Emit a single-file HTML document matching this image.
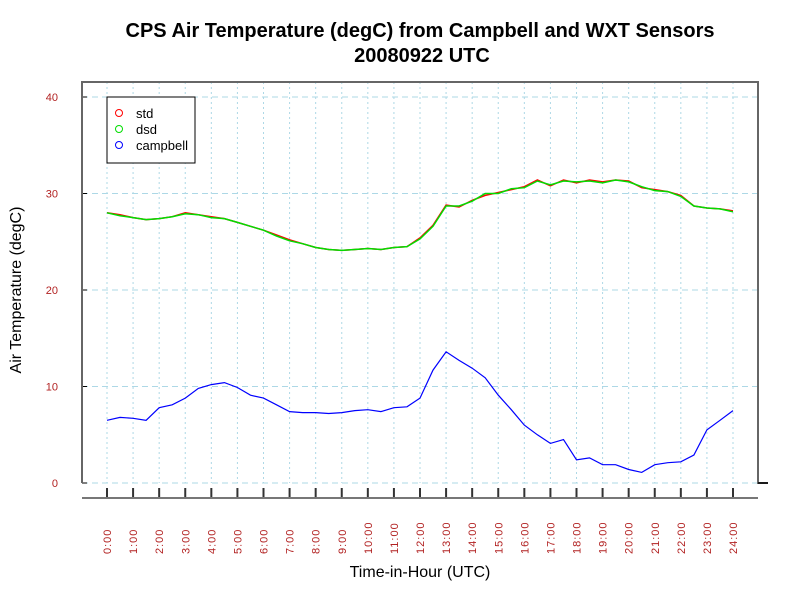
<!DOCTYPE html>
<html><head><meta charset="utf-8"><style>
body{margin:0;background:#fff;}
svg{display:block;font-family:"Liberation Sans",sans-serif;}
</style></head><body>
<svg id="chart" width="800" height="600">
<rect width="800" height="600" fill="#fff"/>
<text x="420" y="37" text-anchor="middle" font-size="20" font-weight="bold">CPS Air Temperature (degC) from Campbell and WXT Sensors</text>
<text x="422" y="62" text-anchor="middle" font-size="20" font-weight="bold">20080922  UTC</text>
<text transform="translate(21,290) rotate(-90)" text-anchor="middle" font-size="16">Air Temperature (degC)</text>
<text x="420" y="577" text-anchor="middle" font-size="16">Time-in-Hour (UTC)</text>
<g id="grid"></g>
<g id="series"></g>
<g id="axes"></g>
<g>
<rect x="107" y="97" width="88" height="66" fill="#fff" stroke="#000" stroke-width="1"/>
<circle cx="119" cy="113" r="3.5" fill="none" stroke="#f00"/>
<text x="136" y="118" font-size="13">std</text>
<circle cx="119" cy="129" r="3.5" fill="none" stroke="#0d0"/>
<text x="136" y="134" font-size="13">dsd</text>
<circle cx="119" cy="145" r="3.5" fill="none" stroke="#00f"/>
<text x="136" y="150" font-size="13">campbell</text>
</g>
</svg>
<script>
const hours=[0,0.5,1,1.5,2,2.5,3,3.5,4,4.5,5,5.5,6,6.5,7,7.5,8,8.5,9,9.5,10,10.5,11,11.5,12,12.5,13,13.5,14,14.5,15,15.5,16,16.5,17,17.5,18,18.5,19,19.5,20,20.5,21,21.5,22,22.5,23,23.5,24];
const stdVals=[28.0,27.8,27.5,27.3,27.4,27.6,28.0,27.8,27.6,27.4,27.0,26.6,26.2,25.7,25.2,24.8,24.4,24.2,24.1,24.2,24.3,24.2,24.4,24.5,25.4,26.7,28.8,28.6,29.3,29.8,30.1,30.4,30.7,31.4,30.8,31.4,31.1,31.4,31.2,31.4,31.3,30.6,30.4,30.2,29.8,28.7,28.5,28.4,28.2];
const dsdVals=[28.0,27.7,27.5,27.3,27.4,27.6,27.9,27.8,27.5,27.4,27.0,26.6,26.2,25.6,25.1,24.8,24.4,24.2,24.1,24.2,24.3,24.2,24.4,24.5,25.3,26.6,28.7,28.7,29.2,30.0,30.0,30.5,30.6,31.3,30.9,31.3,31.2,31.3,31.1,31.4,31.2,30.7,30.3,30.2,29.7,28.7,28.5,28.4,28.1];
const campbellVals=[6.5,6.8,6.7,6.5,7.8,8.1,8.8,9.8,10.2,10.4,9.9,9.1,8.8,8.1,7.4,7.3,7.3,7.2,7.3,7.5,7.6,7.4,7.8,7.9,8.8,11.7,13.6,12.7,11.9,10.9,9.1,7.6,6.0,5.0,4.1,4.5,2.4,2.6,1.9,1.9,1.4,1.1,1.9,2.1,2.2,2.9,5.5,6.5,7.5];
const yTicks=[0,10,20,30,40];
const xTickLabels=["0:00","1:00","2:00","3:00","4:00","5:00","6:00","7:00","8:00","9:00","10:00","11:00","12:00","13:00","14:00","15:00","16:00","17:00","18:00","19:00","20:00","21:00","22:00","23:00","24:00"];
const NS="http://www.w3.org/2000/svg";
function xs(h){return 107+h*(733-107)/24;}
function ys(v){return 483-v*(483-97)/40;}
function mk(tag,attrs,parent){const e=document.createElementNS(NS,tag);for(const k in attrs)e.setAttribute(k,attrs[k]);parent.appendChild(e);return e;}
const grid=document.getElementById('grid'),series=document.getElementById('series'),axes=document.getElementById('axes');
yTicks.forEach(v=>{
  const l=mk('line',{x1:82,x2:758,y1:ys(v),y2:ys(v),stroke:'#add8e6','stroke-dasharray':'6,4'},grid);
  
  
  const t=mk('text',{x:58,y:ys(v)+4,'text-anchor':'end','font-size':'11',fill:'#b22222'},axes);
  t.textContent=v;
  
  
  mk('line',{x1:82,x2:87,y1:ys(v),y2:ys(v),stroke:'#000'},axes);
});
xTickLabels.forEach((s,i)=>{
  const x=xs(i);
  const l=mk('line',{x1:x,x2:x,y1:82,y2:483,stroke:'#add8e6','stroke-dasharray':'2,3'},grid);
  
  
  mk('line',{x1:x,x2:x,y1:488,y2:498,stroke:'#333','stroke-width':2},axes);
  const t=mk('text',{transform:`translate(${x+4},554) rotate(-90)`,'font-size':'11',fill:'#b22222','letter-spacing':'1'},axes);
  t.textContent=s;
  
  
});
mk('path',{d:'M82,483 L82,82 L758,82 L758,483 L768,483',fill:'none',stroke:'#666','stroke-width':2},axes);
mk('line',{x1:758,x2:768,y1:483,y2:483,stroke:'#000','stroke-width':1.5},axes);
const xa=mk('line',{x1:82,x2:758,y1:498,y2:498,stroke:'#777','stroke-width':2},axes);


function line(vals,color,name,w){
  const d=vals.map((v,i)=>(i?'L':'M')+xs(hours[i]).toFixed(1)+','+ys(v).toFixed(1)).join(' ');
  const p=mk('path',{d:d,fill:'none',stroke:color,'stroke-width':w},series);
  
  
}
line(stdVals,'#f00','std-line',1.5);
line(dsdVals,'#0d0','dsd-line',1.5);
line(campbellVals,'#00f','campbell-line',1.2);
</script>
</body></html>
